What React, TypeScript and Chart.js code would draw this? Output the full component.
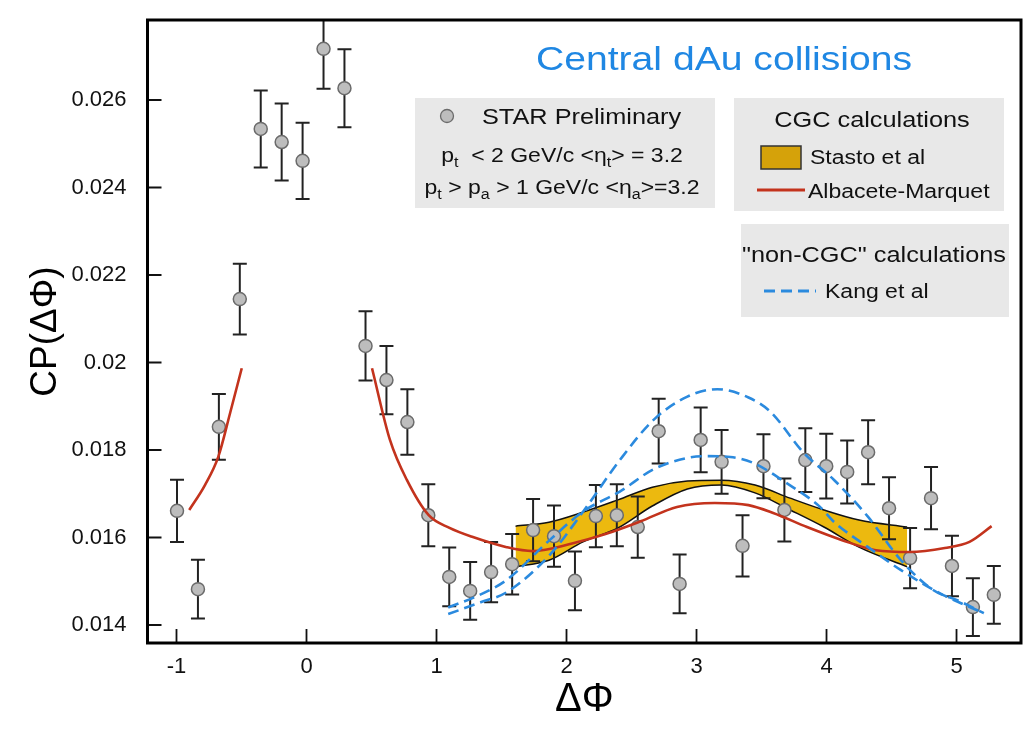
import React, { useEffect, useRef } from 'react';
import { Chart, registerables } from 'chart.js';

Chart.register(...registerables);

// ---- STAR preliminary data points ----
const DPHI = [
  -0.996, -0.835, -0.674, -0.513, -0.352, -0.191, -0.03, 0.131, 0.292, 0.454,
  0.615, 0.776, 0.937, 1.098, 1.259, 1.42, 1.582, 1.743, 1.904, 2.065,
  2.226, 2.387, 2.548, 2.709, 2.87, 3.032, 3.193, 3.354, 3.515, 3.676,
  3.837, 3.998, 4.159, 4.32, 4.481, 4.643, 4.804, 4.965, 5.126, 5.287,
];
const CP = [
  0.01661, 0.01482, 0.01853, 0.02145, 0.02534, 0.02504, 0.02461, 0.02717, 0.02627, 0.02038,
  0.0196, 0.01864, 0.01651, 0.0151, 0.01478, 0.01521, 0.01539, 0.01617, 0.01603, 0.01501,
  0.01649, 0.01651, 0.01624, 0.01843, 0.01494, 0.01823, 0.01773, 0.01581, 0.01763, 0.01663,
  0.01777, 0.01763, 0.0175, 0.01795, 0.01667, 0.01553, 0.0169, 0.01535, 0.01441, 0.01469,
];
const CP_ERR = [
  0.00071, 0.00067, 0.00075, 0.00081, 0.00088, 0.00088, 0.00087, 0.00091, 0.00089, 0.00079,
  0.00078, 0.00075, 0.00071, 0.00067, 0.00066, 0.00069, 0.00069, 0.00071, 0.0007, 0.00067,
  0.00071, 0.00071, 0.0007, 0.00074, 0.00067, 0.00074, 0.00073, 0.0007, 0.00073, 0.00072,
  0.00073, 0.00074, 0.00072, 0.00073, 0.00071, 0.00069, 0.00071, 0.00069, 0.00066, 0.00066,
];

// ---- Albacete-Marquet (CGC) ----
const AM_LEFT_X = [-0.902, -0.781, -0.678, -0.588, -0.498];
const AM_LEFT_Y = [0.01663, 0.0172, 0.01785, 0.01884, 0.01987];
const AM_RIGHT_X = [0.504, 0.642, 0.773, 0.94, 1.1, 1.28, 1.54, 1.74, 2.05, 2.3, 2.57, 2.85, 3.14, 3.4, 3.59, 3.85, 4.12, 4.38, 4.64, 4.91, 5.1, 5.27];
const AM_RIGHT_Y = [0.01987, 0.01823, 0.01731, 0.01651, 0.01622, 0.01601, 0.01578, 0.01569, 0.01587, 0.01608, 0.01637, 0.0167, 0.01679, 0.01674, 0.01656, 0.01624, 0.01594, 0.01571, 0.01567, 0.01576, 0.0159, 0.01626];

// ---- Stasto et al band (CGC) ----
const ST_X = [1.608, 1.865, 2.127, 2.396, 2.66, 2.93, 3.19, 3.45, 3.72, 3.98, 4.25, 4.62];
const ST_HI = [0.01626, 0.01635, 0.01658, 0.01686, 0.01715, 0.01729, 0.01731, 0.0172, 0.0169, 0.01663, 0.0164, 0.01624];
const ST_LO = [0.01533, 0.01548, 0.0159, 0.01622, 0.01672, 0.01711, 0.0172, 0.01702, 0.01663, 0.01624, 0.01578, 0.01533];

// ---- Kang et al (non-CGC), two curves ----
const KANG_A_X = [1.09, 1.34, 1.54, 1.87, 2.13, 2.41, 2.67, 2.93, 3.16, 3.4, 3.57, 3.82, 4.06, 4.32, 4.57, 4.82, 5.02, 5.21];
const KANG_A_Y = [0.01425, 0.01452, 0.01475, 0.0156, 0.0166, 0.01777, 0.01869, 0.01922, 0.01939, 0.0192, 0.01887, 0.01795, 0.01731, 0.01647, 0.01549, 0.0148, 0.01455, 0.01427];
const KANG_B_X = [1.09, 1.34, 1.54, 1.87, 2.13, 2.41, 2.67, 2.93, 3.08, 3.26, 3.44, 3.69, 3.95, 4.06, 4.32, 4.57, 4.87, 5.21];
const KANG_B_Y = [0.0144, 0.0147, 0.01503, 0.01594, 0.0166, 0.01705, 0.01756, 0.01782, 0.01786, 0.01784, 0.0177, 0.01725, 0.0167, 0.01635, 0.01578, 0.01526, 0.01473, 0.01427];

// ---- axes ----
const X_TICKS = [-1, 0, 1, 2, 3, 4, 5];
const X_TICK_LABELS = ['-1', '0', '1', '2', '3', '4', '5'];
const Y_TICKS = [0.014, 0.016, 0.018, 0.02, 0.022, 0.024, 0.026];
const Y_TICK_LABELS = ['0.014', '0.016', '0.018', '0.02', '0.022', '0.024', '0.026'];
const X_RANGE = [-1.223, 5.496];
const Y_RANGE = [0.013589, 0.027829];

// ---- texts ----
const TITLE = 'Central dAu collisions';
const X_TITLE = 'ΔΦ';
const Y_TITLE = 'CP(ΔΦ)';
const STAR_LABEL = 'STAR Preliminary';
const STAR_LINE2: [string, boolean][] = [['p', false], ['t', true], ['  < 2 GeV/c <η', false], ['t', true], ['> = 3.2', false]];
const STAR_LINE3: [string, boolean][] = [['p', false], ['t', true], [' > p', false], ['a', true], [' > 1 GeV/c <η', false], ['a', true], ['>=3.2', false]];
const CGC_HEADER = 'CGC calculations';
const STASTO_LABEL = 'Stasto et al';
const AM_LABEL = 'Albacete-Marquet';
const NONCGC_HEADER = '"non-CGC" calculations';
const KANG_LABEL = 'Kang et al';

const FONT = '"Liberation Sans", Arial, Helvetica, sans-serif';
const RED = '#c3331d';
const BLUE = '#2b8ade';
const BAND = '#ecb90f';
const SX = 1.15;

const pts = (xs: number[], ys: number[]) => xs.map((x, i) => ({ x, y: ys[i] }));

function drawRich(ctx: CanvasRenderingContext2D, segs: [string, boolean][], x: number, y: number, size: number, align: 'left' | 'center') {
  let w = 0;
  for (const [t, sub] of segs) {
    ctx.font = `${sub ? Math.round(size * 0.72) : size}px ${FONT}`;
    w += ctx.measureText(t).width;
  }
  ctx.save();
  ctx.translate(x, y);
  ctx.scale(SX, 1);
  ctx.textBaseline = 'middle';
  ctx.textAlign = 'left';
  let cx = align === 'center' ? -w / 2 : 0;
  for (const [t, sub] of segs) {
    ctx.font = `${sub ? Math.round(size * 0.72) : size}px ${FONT}`;
    ctx.fillText(t, cx, sub ? size * 0.36 : 0);
    cx += ctx.measureText(t).width;
  }
  ctx.restore();
}

const PTS_INDEX = 4;

const errorBars = {
  id: 'errorBars',
  beforeDatasetDraw(chart: any, args: any) {
    if (args.index !== PTS_INDEX) return;
    const { ctx, chartArea, scales } = chart;
    const xs = scales.x, ys = scales.y;
    ctx.save();
    ctx.beginPath();
    ctx.rect(chartArea.left, chartArea.top, chartArea.right - chartArea.left, chartArea.bottom - chartArea.top);
    ctx.clip();
    ctx.strokeStyle = '#222';
    ctx.lineWidth = 2;
    for (let i = 0; i < DPHI.length; i++) {
      const px = xs.getPixelForValue(DPHI[i]);
      const y1 = ys.getPixelForValue(CP[i] + CP_ERR[i]);
      const y2 = ys.getPixelForValue(CP[i] - CP_ERR[i]);
      ctx.beginPath();
      ctx.moveTo(px, y1); ctx.lineTo(px, y2);
      ctx.moveTo(px - 7, y1); ctx.lineTo(px + 7, y1);
      ctx.moveTo(px - 7, y2); ctx.lineTo(px + 7, y2);
      ctx.stroke();
    }
    ctx.restore();
  },
};

const decorations = {
  id: 'decorations',
  afterDraw(chart: any) {
    const { ctx, chartArea, scales } = chart;
    const { left, right, top, bottom } = chartArea;
    ctx.save();
    // inside tick marks
    ctx.strokeStyle = '#111';
    ctx.lineWidth = 1.8;
    ctx.beginPath();
    for (const v of X_TICKS) {
      const px = scales.x.getPixelForValue(v);
      ctx.moveTo(px, bottom); ctx.lineTo(px, bottom - 14);
    }
    for (const v of Y_TICKS) {
      const py = scales.y.getPixelForValue(v);
      ctx.moveTo(left, py); ctx.lineTo(left + 14, py);
    }
    ctx.stroke();
    // frame
    ctx.lineWidth = 3;
    ctx.strokeStyle = '#000';
    ctx.strokeRect(left, top, right - left, bottom - top);

    // title
    ctx.fillStyle = '#1f87e3';
    drawRich(ctx, [[TITLE, false]], 724, 61, 34, 'center');

    // legend boxes
    ctx.fillStyle = '#e8e8e8';
    ctx.fillRect(415, 98, 300, 110);
    ctx.fillRect(734, 98, 270, 113);
    ctx.fillRect(741, 224, 268, 93);

    // STAR box
    ctx.beginPath();
    ctx.arc(447, 116, 6.5, 0, Math.PI * 2);
    ctx.fillStyle = '#bdbdbd';
    ctx.fill();
    ctx.lineWidth = 1.3;
    ctx.strokeStyle = '#6b6b6b';
    ctx.stroke();
    ctx.fillStyle = '#111';
    drawRich(ctx, [[STAR_LABEL, false]], 482, 118, 22, 'left');
    drawRich(ctx, STAR_LINE2, 562, 156, 20, 'center');
    drawRich(ctx, STAR_LINE3, 562, 188, 20, 'center');

    // CGC box
    drawRich(ctx, [[CGC_HEADER, false]], 872, 121, 22, 'center');
    ctx.fillStyle = '#d5a20a';
    ctx.fillRect(761, 146, 40, 23);
    ctx.lineWidth = 1.5;
    ctx.strokeStyle = '#333';
    ctx.strokeRect(761, 146, 40, 23);
    ctx.fillStyle = '#111';
    drawRich(ctx, [[STASTO_LABEL, false]], 810, 158, 20, 'left');
    ctx.strokeStyle = RED;
    ctx.lineWidth = 3;
    ctx.beginPath();
    ctx.moveTo(757, 190); ctx.lineTo(805, 190);
    ctx.stroke();
    drawRich(ctx, [[AM_LABEL, false]], 808, 192, 20, 'left');

    // non-CGC box
    drawRich(ctx, [[NONCGC_HEADER, false]], 874, 256, 22, 'center');
    ctx.strokeStyle = BLUE;
    ctx.lineWidth = 3;
    ctx.setLineDash([11, 6]);
    ctx.beginPath();
    ctx.moveTo(764, 291); ctx.lineTo(816, 291);
    ctx.stroke();
    ctx.setLineDash([]);
    drawRich(ctx, [[KANG_LABEL, false]], 825, 292, 20, 'left');
    ctx.restore();
  },
};

const zeroPad = (s: any) => {
  s.paddingTop = 0;
  s.paddingBottom = 0;
  s.paddingLeft = 0;
  s.paddingRight = 0;
};

export default function App() {
  const ref = useRef<HTMLCanvasElement | null>(null);
  useEffect(() => {
    if (!ref.current) return;
    Chart.defaults.font.family = FONT;
    const lineBase = {
      type: 'line' as const,
      pointRadius: 0,
      cubicInterpolationMode: 'monotone' as const,
      fill: false,
      showLine: true,
    };
    const chart = new Chart(ref.current, {
      type: 'line',
      data: {
        datasets: [
          { ...lineBase, label: 'Kang A', data: pts(KANG_A_X, KANG_A_Y), borderColor: BLUE, borderWidth: 2.6, borderDash: [11, 6], order: 0 },
          { ...lineBase, label: 'Kang B', data: pts(KANG_B_X, KANG_B_Y), borderColor: BLUE, borderWidth: 2.6, borderDash: [11, 6], order: 0 },
          { ...lineBase, label: 'AM left', data: pts(AM_LEFT_X, AM_LEFT_Y), borderColor: RED, borderWidth: 2.6, order: 1 },
          { ...lineBase, label: 'AM right', data: pts(AM_RIGHT_X, AM_RIGHT_Y), borderColor: RED, borderWidth: 2.6, order: 1 },
          {
            type: 'line', label: 'STAR', data: pts(DPHI, CP), showLine: false,
            pointRadius: 6.5, pointBackgroundColor: '#bdbdbd', pointBorderColor: '#6b6b6b', pointBorderWidth: 1.5,
            order: 2,
          },
          { ...lineBase, label: 'Stasto hi', data: pts(ST_X, ST_HI), borderColor: '#111', borderWidth: 1.5, fill: '+1', backgroundColor: BAND, order: 4 },
          { ...lineBase, label: 'Stasto lo', data: pts(ST_X, ST_LO), borderColor: '#111', borderWidth: 1.5, order: 3 },
        ] as any,
      },
      options: {
        responsive: false,
        animation: false,
        devicePixelRatio: 1,
        layout: { autoPadding: false, padding: { top: 20, right: 4, left: 0, bottom: 0 } },
        plugins: {
          legend: { display: false },
          tooltip: { enabled: false },
          title: { display: false },
        },
        scales: {
          x: {
            type: 'linear',
            min: X_RANGE[0],
            max: X_RANGE[1],
            grid: { display: false },
            border: { display: false },
            afterFit: (s: any) => { s.height = 93; zeroPad(s); },
            afterBuildTicks: (s: any) => { s.ticks = X_TICKS.map((v) => ({ value: v })); },
            ticks: {
              padding: 3,
              autoSkip: false,
              maxRotation: 0,
              color: '#111',
              font: { size: 22, family: FONT },
              callback: (v: any) => { const i = X_TICKS.indexOf(Number(v)); return i >= 0 ? X_TICK_LABELS[i] : ''; },
            },
            title: { display: true, text: X_TITLE, color: '#000', font: { size: 40, family: FONT }, padding: { top: 4, bottom: 12 } },
          },
          y: {
            type: 'linear',
            min: Y_RANGE[0],
            max: Y_RANGE[1],
            grid: { display: false },
            border: { display: false },
            afterFit: (s: any) => { s.width = 147.5; zeroPad(s); },
            afterBuildTicks: (s: any) => { s.ticks = Y_TICKS.map((v) => ({ value: v })); },
            ticks: {
              padding: 13,
              autoSkip: false,
              color: '#111',
              font: { size: 22, family: FONT },
              callback: (v: any) => {
                const i = Y_TICKS.findIndex((t) => Math.abs(t - Number(v)) < 1e-9);
                return i >= 0 ? Y_TICK_LABELS[i] : '';
              },
            },
            title: { display: true, text: Y_TITLE, color: '#000', font: { size: 37, family: FONT }, padding: { top: 24, bottom: 0 } },
          },
        },
      },
      plugins: [errorBars, decorations],
    } as any);
    return () => chart.destroy();
  }, []);

  return (
    <div style={{ position: 'absolute', left: 0, top: 0, width: 1025, height: 736, background: '#fff' }}>
      <canvas ref={ref} width={1025} height={736} style={{ display: 'block' }} />
    </div>
  );
}
